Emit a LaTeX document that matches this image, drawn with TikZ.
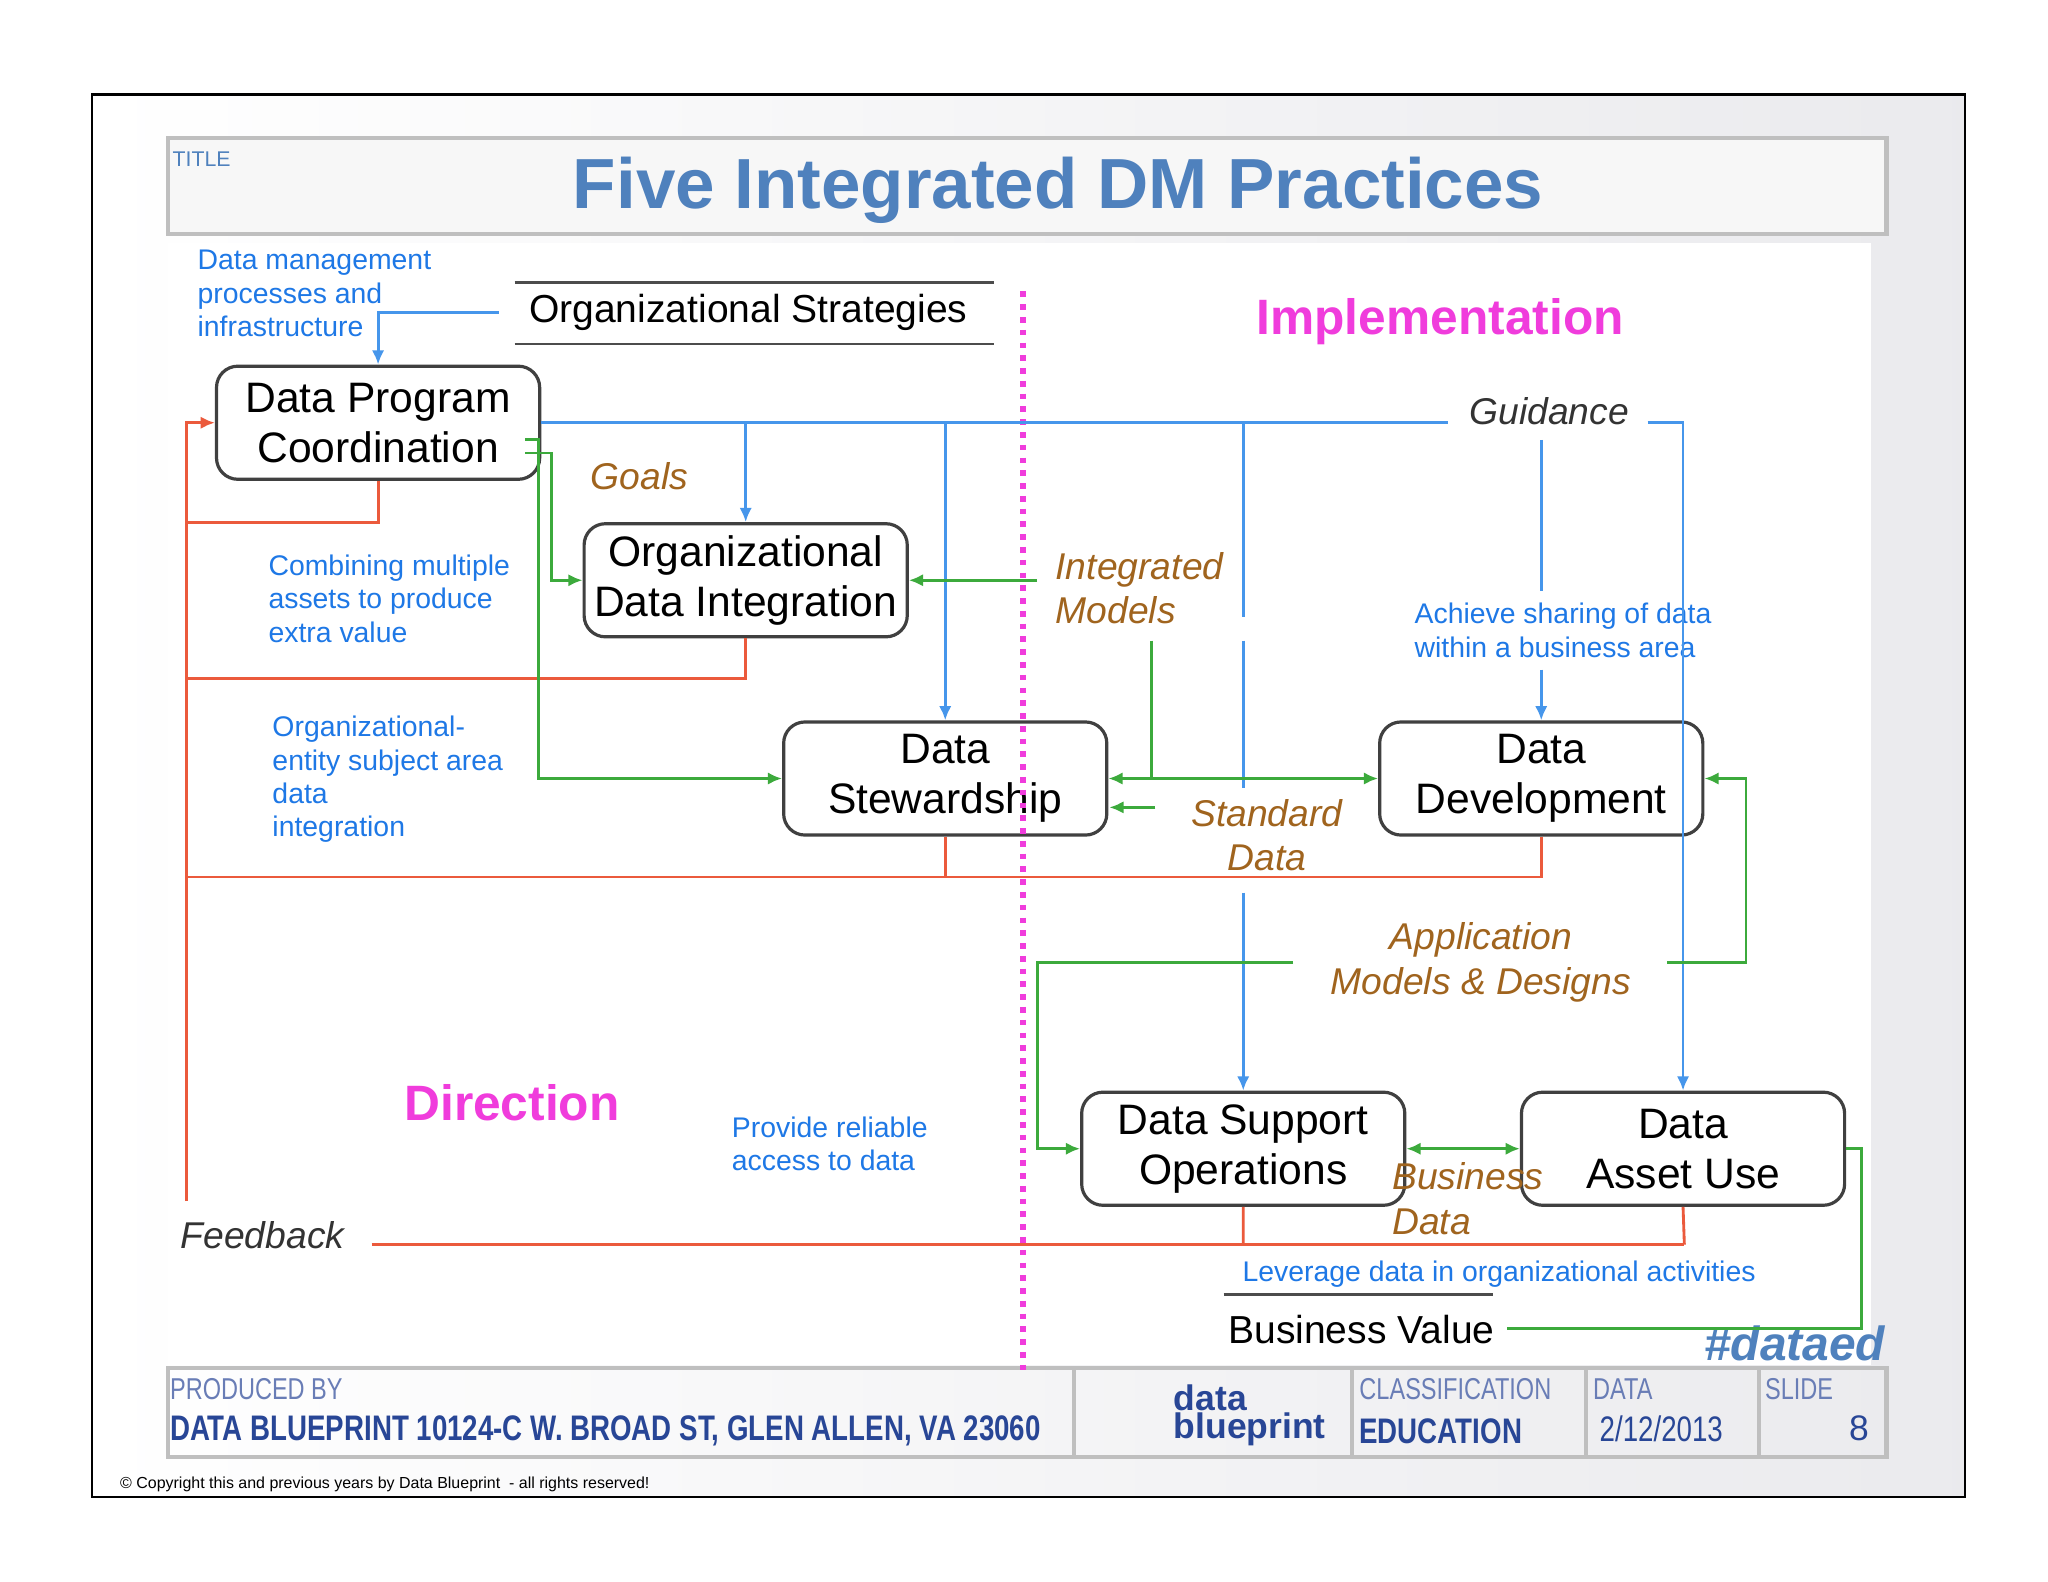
\documentclass[tikz,border=0pt]{standalone}
\usepackage{fontspec}
\setmainfont{Liberation Sans}
\usetikzlibrary{arrows.meta}
\definecolor{titleblue}{RGB}{79,129,189}
\definecolor{noteblue}{RGB}{30,120,230}
\definecolor{linkblue}{RGB}{70,150,235}
\definecolor{fbred}{RGB}{235,90,60}
\definecolor{flowgreen}{RGB}{60,170,60}
\definecolor{labbrown}{RGB}{160,100,30}
\definecolor{magpink}{RGB}{240,60,220}
\definecolor{footblue}{RGB}{40,70,150}
\newcommand{\narrow}[1]{\scalebox{0.78}[1]{#1}}
\tikzset{
  practice/.style={draw=black!75, line width=0.9pt, rounded corners=6pt, fill=white,
    minimum width=3.2cm, minimum height=1.12cm, align=center, inner sep=1pt,
    font=\fontsize{12}{14}\selectfont},
  note/.style={text=noteblue, align=left, anchor=north west, inner sep=0pt,
    font=\fontsize{8}{9.4}\selectfont},
  flow/.style={labbrown, font=\fontsize{10.5}{12.5}\selectfont\itshape, align=center},
  guide/.style={linkblue, line width=0.8pt},
  feed/.style={fbred, line width=0.8pt},
  data/.style={flowgreen, line width=0.8pt},
  tip/.style={-{Latex[length=4pt,width=3.5pt]}},
  foothead/.style={anchor=west, inner sep=0pt, text=footblue!70, font=\fontsize{8.5}{10}\selectfont},
  footval/.style={anchor=west, inner sep=0pt, text=footblue, font=\fontsize{10}{12}\selectfont\bfseries},
}
\begin{document}
\begin{tikzpicture}[x=0.013cm, y=-0.013cm]
\useasboundingbox (0,0) rectangle (1560,1205);
\fill[white] (0,0) rectangle (1560,1205);
% slide frame
\shade[left color=white, right color=blue!8!gray!15] (70,72) rectangle (1497,1140);
\draw[black, line width=0.6pt] (70,72) rectangle (1497,1140);
\draw[gray!50, line width=1.2pt, fill=gray!6] (128,105) rectangle (1437,178);
\node[anchor=north west, text=titleblue, inner sep=0pt, font=\fontsize{6}{7}\selectfont] (ttl) at (131,115) {TITLE};
\node[text=titleblue, font=\fontsize{20}{24}\selectfont\bfseries] (title) at (806,145) {Five Integrated DM Practices};
\fill[white] (128,185) rectangle (1425,1040);
\draw[gray!50, line width=1.2pt] (128,1042) rectangle (1437,1110);
\foreach \x in {818,1030,1208,1340} \draw[gray!50, line width=1.2pt] (\x,1042) -- (\x,1110);

% practices
\node[practice] (dpc) at (288,322) {Data Program\\Coordination};
\node[practice] (odi) at (568,442) {Organizational\\Data Integration};
\node[practice] (ds) at (720,593) {Data\\Stewardship};
\node[practice] (dd) at (1174,593) {Data\\Development};
\node[practice] (dso) at (947,875) {Data Support\\Operations};
\node[practice] (dau) at (1282,875) {Data\\Asset Use};

% labels
\node[font=\fontsize{11}{13}\selectfont] (strat) at (570,238) {Organizational Strategies};
\draw[black!70, line width=0.8pt] (392,215) -- (757,215) (392,262) -- (757,262);
\node[magpink, font=\fontsize{14}{16}\selectfont\bfseries] (impl) at (1097,245) {Implementation};
\node[magpink, font=\fontsize{14}{16}\selectfont\bfseries] (dir) at (390,840) {Direction};
\node[font=\fontsize{10.5}{12}\selectfont\itshape, text=black!80] (guid) at (1180,313) {Guidance};
\node[font=\fontsize{10.5}{12}\selectfont\itshape, text=black!80] (fb) at (200,941) {Feedback};
\node[flow] (goals) at (487,363) {Goals};
\node[flow, align=left] (intm) at (868,448) {Integrated\\Models};
\node[flow] (std) at (965,636) {Standard\\Data};
\node[flow] (app) at (1128,733) {Application\\Models \& Designs};
\node[flow, align=left, anchor=west, inner sep=0pt] (bus) at (1060,913) {Business\\Data};
\node[note] (n1) at (150,190) {Data management\\processes and\\infrastructure};
\node[note] (n2) at (204,422) {Combining multiple\\assets to produce\\extra value};
\node[note] (n3) at (207,545) {Organizational-\\entity subject area\\data\\integration};
\node[note] (n4) at (557,850) {Provide reliable\\access to data};
\node[note] (n5) at (1077,459) {Achieve sharing of data\\within a business area};
\node[note] (n6) at (946,960) {Leverage data in organizational activities};
\node[font=\fontsize{11}{13}\selectfont] (bv) at (1037,1013) {Business Value};
\draw[black!70, line width=0.8pt] (932,986) -- (1137,986);
\node[text=titleblue, font=\fontsize{13.5}{16}\selectfont\bfseries\itshape] (tag) at (1367,1023) {\#dataed};

% divider
\draw[magpink, line width=1.6pt, dotted] (779,222) -- (779,1045);

% guidance (blue)
\draw[guide, tip] (380,238) -| (dpc.north);
\draw[guide] (dpc.east) -- (1103,322);
\draw[guide, tip] (1255,322) -| (dau.north);
\draw[guide, tip] (568,322) -- (odi.north);
\draw[guide, tip] (720,322) -- (ds.north);
\draw[guide] (947,322) -- (947,470) (947,488) -- (947,600);
\draw[guide, tip] (947,680) -- (dso.north);
\draw[guide] (1174,335) -- (1174,450);
\draw[guide, tip] (1174,510) -- (dd.north);

% feedback (red)
\draw[feed, tip] (142,915) -- (142,322) -- (dpc.west);
\draw[feed] (dpc.south) -- (288,398) -- (142,398);
\draw[feed] (odi.south) -- (568,517) -- (142,517);
\draw[feed] (ds.south) -- (720,668);
\draw[feed] (dd.south) -- (1174,668) -- (142,668);
\draw[feed] (283,948) -- (1283,948);
\draw[feed] (dso.south) -- (947,948) (dau.south) -- (1283,948);

% data flows (green)
\draw[data, tip] (400,345) -- (420,345) -- (420,442) -- (odi.west);
\draw[data, tip] (400,335) -- (410,335) -- (410,593) -- (ds.west);
\draw[data, tip] (790,442) -- (odi.east);
\draw[data] (877,488) -- (877,593);
\draw[data, {Latex[length=4pt,width=3.5pt]}-{Latex[length=4pt,width=3.5pt]}] (ds.east) -- (dd.west);
\draw[data, tip] (880,615) -- (845,615);
\draw[data, tip] (985,733) -- (790,733) -- (790,875) -- (dso.west);
\draw[data, tip] (1270,733) -- (1330,733) -- (1330,593) -- (dd.east);
\draw[data, {Latex[length=4pt,width=3.5pt]}-{Latex[length=4pt,width=3.5pt]}] (dso.east) -- (dau.west);
\draw[data] (dau.east) -- (1418,875) -- (1418,1012) -- (1148,1012);

% footer
\node[foothead] (prod) at (129,1058) {\narrow{PRODUCED BY}};
\node[footval] (addr) at (129,1090) {\narrow{DATA BLUEPRINT 10124-C W. BROAD ST, GLEN ALLEN, VA 23060}};
\node[text=footblue, font=\fontsize{10}{8}\selectfont\bfseries, align=left, inner sep=0pt] (logo) at (952,1078) {data\\blueprint};
\node[foothead] (cls) at (1035,1058) {\narrow{CLASSIFICATION}};
\node[footval] (edu) at (1035,1090) {\narrow{EDUCATION}};
\node[foothead] (dat) at (1213,1058) {\narrow{DATA}};
\node[footval, font=\fontsize{10}{12}\selectfont] (date) at (1218,1088) {\narrow{2/12/2013}};
\node[foothead] (sld) at (1344,1058) {\narrow{SLIDE}};
\node[footval, font=\fontsize{10}{12}\selectfont] (num) at (1408,1088) {8};
\node[anchor=west, font=\fontsize{4.5}{5}\selectfont] (copy) at (82,1131) {\textcopyright{} Copyright this and previous years by Data Blueprint\ \ - all rights reserved!};
\end{tikzpicture}
\end{document}
